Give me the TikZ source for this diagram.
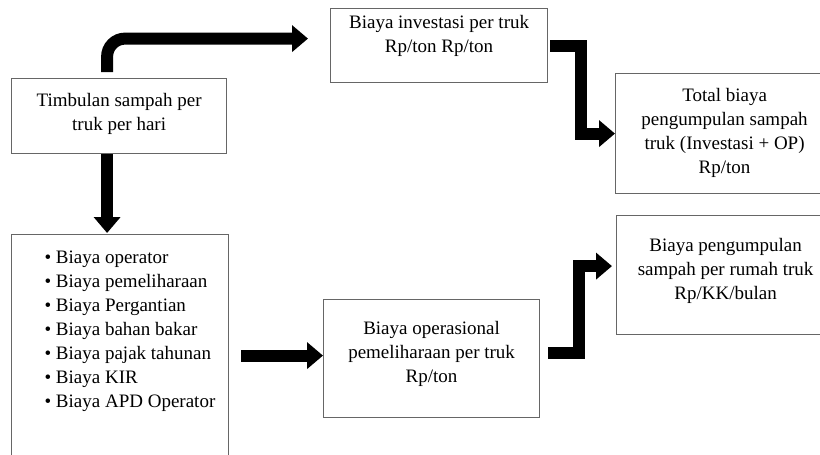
\documentclass[tikz,border=0pt]{standalone}
\usepackage{fontspec}
\setmainfont{Liberation Serif}
\usetikzlibrary{arrows.meta,calc}
% isi kotak: lebar, tinggi, jarak baris pertama, teks
\newcommand{\isikotak}[4]{\parbox[c][#2][t]{#1}{\centering\rule{0pt}{#3}#4}}
\tikzset{
	kotak/.style={draw=black!60,line width=1.2pt,inner sep=0pt,anchor=north west,
		font=\fontsize{19}{24}\selectfont},
	panah/.style={line width=12pt,-{Triangle[width=26pt,length=16pt]}}
}
\begin{document}
\begin{tikzpicture}[x=1pt,y=-1pt]
\useasboundingbox (0,0) rectangle (820,455);
% kotak
\node[kotak] (tim) at (11,78) {\isikotak{215pt}{75pt}{28pt}{Timbulan sampah per\\truk per hari}};
\node[kotak] (inv) at (330,8) {\isikotak{217pt}{74pt}{20pt}{Biaya investasi per truk\\Rp/ton Rp/ton}};
\node[kotak] (tot) at (615,73) {\isikotak{218pt}{120pt}{28pt}{Total biaya\\pengumpulan sampah\\truk (Investasi + OP)\\Rp/ton}};
\node[kotak] (lst) at (11,234) {\parbox[c][240pt][t]{217pt}{\raggedright\leftskip=33pt
	\rule{0pt}{29pt}\textbullet~Biaya operator\\
	\textbullet~Biaya pemeliharaan\\
	\textbullet~Biaya Pergantian\\
	\textbullet~Biaya bahan bakar\\
	\textbullet~Biaya pajak tahunan\\
	\textbullet~Biaya KIR\\
	\textbullet~Biaya APD Operator}};
\node[kotak] (opr) at (323,299) {\isikotak{216pt}{118pt}{35pt}{Biaya operasional\\pemeliharaan per truk\\Rp/ton}};
\node[kotak] (peg) at (616,215) {\isikotak{218pt}{119pt}{36pt}{Biaya pengumpulan\\sampah per rumah truk\\Rp/KK/bulan}};
% panah
\draw[panah,rounded corners=18pt,shorten <=6pt,shorten >=22pt] ([xshift=-12pt]tim.north) |- ([yshift=7pt]inv.west);
\draw[panah,shorten >=1pt] ([xshift=-12pt]tim.south) -- ([xshift=-12pt]tim.south |- lst.north);
\draw[panah,shorten <=2pt] (inv.east) -- ++(33,0) |- (tot.west);
\draw[panah,shorten <=12pt] ([yshift=3pt]lst.east |- opr.west) -- ([yshift=3pt]opr.west);
\draw[panah,shorten <=8pt,shorten >=4pt] ([yshift=6pt]opr.east) -- ++(39,0) |- ([yshift=9pt]peg.west);
\end{tikzpicture}
\end{document}
